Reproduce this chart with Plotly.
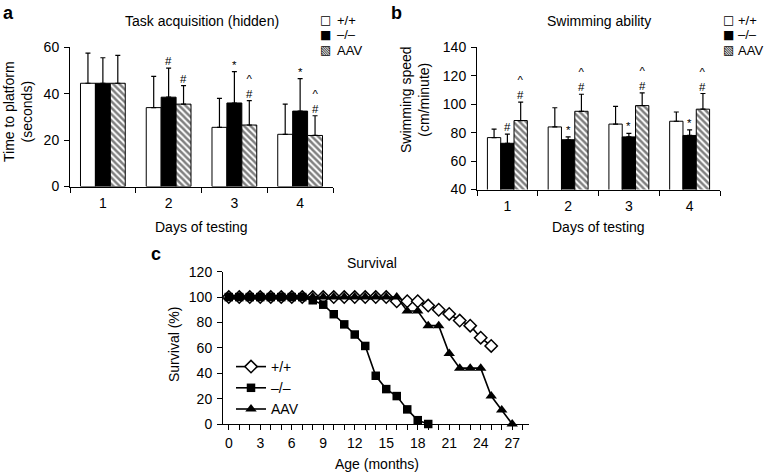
import plotly.graph_objects as go

# ---------------- data ----------------
days = [1, 2, 3, 4]
day_labels = ["1", "2", "3", "4"]
group_names = ["+/+", "\u2013/\u2013", "AAV"]
legend_glyphs = ["\u25a1", "\u25a0", "\u25a7"]

# Panel a: task acquisition (hidden), time to platform (s)
acq_wt = [44.5, 34.0, 25.5, 22.5]
acq_wt_err = [13.0, 13.5, 12.5, 13.0]
acq_ko = [44.5, 38.5, 36.0, 32.5]
acq_ko_err = [11.0, 12.5, 13.5, 14.0]
acq_aav = [44.5, 35.5, 26.5, 22.0]
acq_aav_err = [12.0, 8.0, 10.5, 8.5]
acq_ko_sig = ["", "#", "*", "*"]
acq_aav_sig = ["", "#", "^#", "^#"]

# Panel b: swimming speed (cm/minute)
swim_wt = [76.5, 84.0, 86.0, 88.0]
swim_wt_err = [6.0, 13.5, 12.5, 6.5]
swim_ko = [72.5, 75.0, 77.0, 78.0]
swim_ko_err = [6.5, 2.0, 2.5, 4.0]
swim_aav = [88.5, 95.0, 99.0, 96.5]
swim_aav_err = [13.0, 12.0, 9.0, 11.0]
swim_ko_sig = ["#", "*", "*", "*"]
swim_aav_sig = ["^#", "^#", "^#", "^#"]

# Panel c: survival (%)
wt_months = [0, 1, 2, 3, 4, 5, 6, 7, 8, 9, 10, 11, 12, 13, 14, 15, 16, 17, 18, 19, 20, 21, 22, 23, 24, 25]
wt_surv = [100, 100, 100, 100, 100, 100, 100, 100, 100, 100, 100, 100, 100, 100, 100, 100,
           96.7, 96.7, 96.7, 93.3, 90.0, 86.7, 81.5, 77.5, 68.0, 61.5]
ko_months = [0, 1, 2, 3, 4, 5, 6, 7, 8, 9, 10, 11, 12, 13, 14, 15, 16, 17, 18, 19]
ko_surv = [100, 100, 100, 100, 100, 100, 100, 100,
           97.5, 94.0, 86.5, 78.5, 70.5, 61.5, 38.0, 27.5, 22.0, 11.5, 3.0, 0.0]
aav_months = [0, 1, 2, 3, 4, 5, 6, 7, 8, 9, 10, 11, 12, 13, 14, 15, 16, 17, 18, 19, 20, 21, 22, 23, 24, 25, 26, 27]
aav_surv = [100, 100, 100, 100, 100, 100, 100, 100, 100, 100, 100, 100, 100, 100, 100, 100, 100,
            89.0, 89.0, 77.5, 77.5, 55.5, 44.0, 44.0, 44.0, 22.0, 11.0, 0.0]

a_yticks = [0, 20, 40, 60]
b_yticks = [40, 60, 80, 100, 120, 140]
c_yticks = [0, 20, 40, 60, 80, 100, 120]

# ---------------- layout helpers ----------------
W, H = 764, 474
FONT = "Liberation Sans, Arial, Helvetica, sans-serif"


def px(x):
    return x / W


def py(y):
    return 1 - y / H


fig = go.Figure()

styles = [
    dict(color="white", line=dict(color="black", width=1)),
    dict(color="black", line=dict(color="black", width=1)),
    dict(color="white", line=dict(color="black", width=1),
         pattern=dict(shape="\\", fgcolor="black", bgcolor="white", size=4.5, solidity=0.55)),
]


def add_bar_panel(series, errs, sigs, xa, ya, bw):
    anns = []
    for i, (vals, err) in enumerate(zip(series, errs)):
        off = -1.5 * bw + i * bw
        fig.add_trace(go.Bar(
            x=days, y=vals, name=group_names[i], width=bw, offset=off,
            marker=styles[i],
            error_y=dict(type="data", array=err, arrayminus=[0] * len(err), symmetric=False,
                         color="black", thickness=1.2, width=2.5),
            xaxis=xa, yaxis=ya, showlegend=False,
        ))
    # significance marks above the error bars
    for i, sig in sigs:
        vals, err = series[i], errs[i]
        off = -1.5 * bw + i * bw + bw / 2
        for d, v, e, s in zip(days, vals, err, sig):
            if not s:
                continue
            text = "<br>".join(list(s))
            anns.append(dict(x=d + off, y=v + e, xref=xa, yref=ya, text=text, showarrow=False,
                             yanchor="bottom", yshift=-1, font=dict(size=11.5)))
    return anns


anns = []
anns += add_bar_panel([acq_wt, acq_ko, acq_aav], [acq_wt_err, acq_ko_err, acq_aav_err],
                      [(1, acq_ko_sig), (2, acq_aav_sig)], "x", "y", 0.227)
anns += add_bar_panel([swim_wt, swim_ko, swim_aav], [swim_wt_err, swim_ko_err, swim_aav_err],
                      [(1, swim_ko_sig), (2, swim_aav_sig)], "x2", "y2", 0.219)

# survival lines (draw order: +/+, AAV, -/-)
fig.add_trace(go.Scatter(
    x=wt_months, y=wt_surv, name=group_names[0], mode="lines+markers",
    line=dict(color="black", width=1.6),
    marker=dict(symbol="diamond", size=9.5, color="white", line=dict(color="black", width=1.5)),
    xaxis="x3", yaxis="y3", legend="legend3", legendrank=1, cliponaxis=False))
fig.add_trace(go.Scatter(
    x=aav_months, y=aav_surv, name=group_names[2], mode="lines+markers",
    line=dict(color="black", width=1.6),
    marker=dict(symbol="triangle-up", size=10, color="black"),
    xaxis="x3", yaxis="y3", legend="legend3", legendrank=3, cliponaxis=False))
fig.add_trace(go.Scatter(
    x=ko_months, y=ko_surv, name=group_names[1], mode="lines+markers",
    line=dict(color="black", width=1.6),
    marker=dict(symbol="square", size=8.5, color="black"),
    xaxis="x3", yaxis="y3", legend="legend3", legendrank=2, cliponaxis=False))

axis_common = dict(showline=True, linecolor="black", linewidth=1, showgrid=False, zeroline=False,
                   ticks="outside", ticklen=5, tickwidth=1, tickcolor="black",
                   tickfont=dict(size=14, color="black"), automargin=False, fixedrange=True)
yaxis_common = dict(axis_common, ticklabelstandoff=2)

bounds = [0.5, 1.5, 2.5, 3.5, 4.5]
cat_x = dict(axis_common, range=[0.5, 4.5], tickmode="array", tickvals=days, ticktext=day_labels,
             tickcolor="rgba(0,0,0,0)", ticklen=4,
             minor=dict(tickmode="array", tickvals=bounds, ticks="outside", ticklen=5,
                        tickcolor="black", tickwidth=1, showgrid=False))

fig.update_layout(
    width=W, height=H, autosize=False,
    margin=dict(l=0, r=0, t=0, b=0),
    paper_bgcolor="white", plot_bgcolor="white",
    font=dict(family=FONT, size=14, color="black"),
    barmode="overlay",
    xaxis=dict(cat_x, domain=[px(70), px(333)], anchor="y"),
    yaxis=dict(yaxis_common, domain=[py(186.5), py(47.3)], range=[0, 60], tickmode="array",
               tickvals=a_yticks, anchor="x"),
    xaxis2=dict(cat_x, domain=[px(477), px(720)], anchor="y2"),
    yaxis2=dict(yaxis_common, domain=[py(189.5), py(47.3)], range=[40, 140], tickmode="array",
                tickvals=b_yticks, anchor="x2"),
    xaxis3=dict(axis_common, domain=[px(223), px(529)], range=[-0.55, 28.6], anchor="y3",
                tickmode="linear", tick0=0, dtick=3, ticklabelstandoff=1,
                minor=dict(tickmode="linear", tick0=0, dtick=1, ticks="outside", ticklen=5,
                           tickcolor="black", tickwidth=1, showgrid=False)),
    yaxis3=dict(yaxis_common, domain=[py(424), py(271.7)], range=[0, 120], tickmode="array",
                tickvals=c_yticks, anchor="x3"),
    legend3=dict(x=px(231), y=py(388), xanchor="left", yanchor="middle", bgcolor="rgba(0,0,0,0)",
                 font=dict(size=14), tracegroupgap=0, traceorder="normal",
                 itemclick=False, itemdoubleclick=False),
    showlegend=True,
)


def label(x, y, text, size=14, bold=False, angle=0, xanchor="center", yanchor="middle", family=None):
    t = f"<b>{text}</b>" if bold else text
    f = dict(size=size)
    if family:
        f["family"] = family
    return dict(x=px(x), y=py(y), xref="paper", yref="paper", text=t, showarrow=False,
                xanchor=xanchor, yanchor=yanchor, textangle=angle, font=f)


anns += [
    label(8, 13, "a", size=18, bold=True),
    label(396, 13, "b", size=18, bold=True),
    label(156, 254, "c", size=18, bold=True),
    label(201.5, 21, "Task acquisition (hidden)"),
    label(598.5, 21, "Swimming ability"),
    label(372, 263, "Survival"),
    label(201.5, 227, "Days of testing"),
    label(598.5, 227, "Days of testing"),
    label(377, 453.5, "Age (months)", yanchor="top"),
    label(18, 112, "Time to platform<br>(seconds)", angle=-90),
    label(415, 100, "Swimming speed<br>(cm/minute)", angle=-90),
    label(174, 345, "Survival (%)", angle=-90),
]

# legends for the bar panels (swatch glyph + label)
for (sx, tx) in [(325.5, 335), (728, 736)]:
    for k, (g, name) in enumerate(zip(legend_glyphs, group_names)):
        yy = 20 + 15 * k
        anns.append(label(sx, yy, g, size=12, family="DejaVu Sans"))
        anns.append(label(tx, yy, name, size=13, xanchor="left"))

fig.update_layout(annotations=anns)

fig.write_html("out.html", config={"displayModeBar": False},
               post_script="document.body.style.margin='0';document.body.style.overflow='hidden';")
